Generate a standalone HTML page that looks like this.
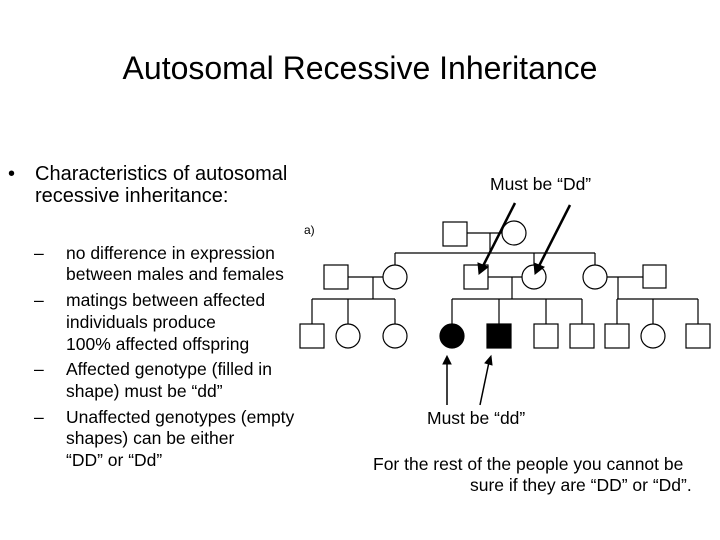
<html><head><style>
body{margin:0;width:720px;height:540px;background:#fff;position:relative;font-family:"Liberation Sans",Arial,sans-serif;color:#000;overflow:hidden}
.t{position:absolute;white-space:nowrap;line-height:1}
</style></head><body>
<div class="t" style="left:0;width:720px;text-align:center;top:52px;font-size:32px">Autosomal Recessive Inheritance</div>
<div class="t" style="left:8px;top:164px;font-size:20px">•</div>
<div class="t" style="left:35px;top:164px;font-size:20px">Characteristics of autosomal</div>
<div class="t" style="left:35px;top:186px;font-size:20px">recessive inheritance:</div>
<div style="position:absolute;left:0;top:0;font-size:17.5px">
<div class="t" style="left:34px;top:245px">–</div><div class="t" style="left:66px;top:245px">no difference in expression</div>
<div class="t" style="left:66px;top:266px">between males and females</div>
<div class="t" style="left:34px;top:292px">–</div><div class="t" style="left:66px;top:292px">matings between affected</div>
<div class="t" style="left:66px;top:314px">individuals produce</div>
<div class="t" style="left:66px;top:336px">100% affected offspring</div>
<div class="t" style="left:34px;top:361px">–</div><div class="t" style="left:66px;top:361px">Affected genotype (filled in</div>
<div class="t" style="left:66px;top:383px">shape) must be “dd”</div>
<div class="t" style="left:34px;top:409px">–</div><div class="t" style="left:66px;top:409px">Unaffected genotypes (empty</div>
<div class="t" style="left:66px;top:430px">shapes) can be either</div>
<div class="t" style="left:66px;top:452px">“DD” or “Dd”</div>
</div>
<div class="t" style="left:490px;top:176px;font-size:17.5px">Must be “Dd”</div>
<div class="t" style="left:427px;top:410px;font-size:17.5px">Must be “dd”</div>
<div class="t" style="left:373px;top:456px;font-size:17.5px">For the rest of the people you cannot be</div>
<div class="t" style="left:470px;top:477px;font-size:17.5px">sure if they are “DD” or “Dd”.</div>
<div class="t" style="left:304px;top:224px;font-size:12px">a)</div>
<svg width="720" height="540" style="position:absolute;left:0;top:0" fill="#fff" stroke="#000" stroke-width="1.2">
<g fill="none">
<path d="M467 233H502M490 233V253M395 253H595M395 253V265M534 253V265M595 253V265"/>
<path d="M348 277H383M373 277V299M312 299H395M312 299V324M348 299V324M395 299V324"/>
<path d="M488 277H522M512 277V299M452 299H582M452 299V324M499 299V324M546 299V324M582 299V324"/>
<path d="M607 277H643M618 277V299M617 299H698M617 299V324M653 299V324M698 299V324"/>
</g>
<rect x="443" y="222" width="24" height="24"/><circle cx="514" cy="233" r="12"/>
<rect x="324" y="265" width="24" height="24"/><circle cx="395" cy="277" r="12"/>
<rect x="464" y="265" width="24" height="24"/><circle cx="534" cy="277" r="12"/>
<circle cx="595" cy="277" r="12"/><rect x="643" y="265" width="23" height="23"/>
<rect x="300" y="324" width="24" height="24"/><circle cx="348" cy="336" r="12"/><circle cx="395" cy="336" r="12"/>
<circle cx="452" cy="336" r="12" fill="#000"/><rect x="487" y="324" width="24" height="24" fill="#000"/>
<rect x="534" y="324" width="24" height="24"/><rect x="570" y="324" width="24" height="24"/>
<rect x="605" y="324" width="24" height="24"/><circle cx="653" cy="336" r="12"/><rect x="686" y="324" width="24" height="24"/>
<g stroke-width="2.5" fill="#000">
<line x1="515" y1="203" x2="482" y2="268"/><polygon points="479,274 478,263 488,267" stroke-width="1"/>
<line x1="570" y1="205" x2="538" y2="268"/><polygon points="535,274 534,263 544,267" stroke-width="1"/>
<line x1="447" y1="405" x2="447" y2="362" stroke-width="1.5"/><polygon points="447,356 443,364 451,364" stroke-width="1"/>
<line x1="480" y1="405" x2="489" y2="362" stroke-width="1.5"/><polygon points="491,356 485,363 492,365" stroke-width="1"/>
</g>
</svg>
</body></html>
